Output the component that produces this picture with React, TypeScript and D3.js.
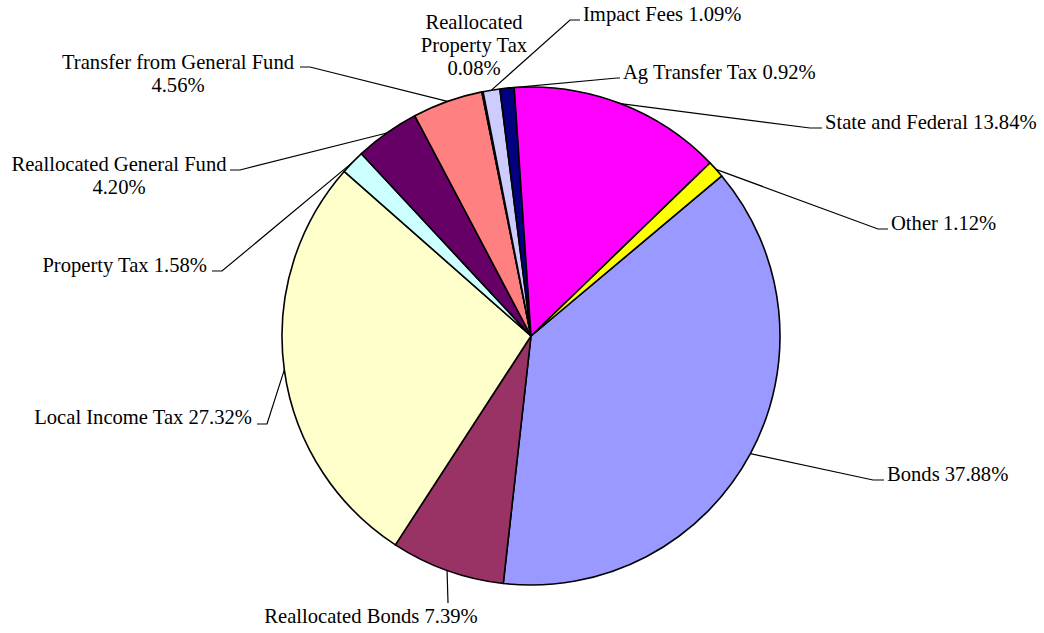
import React from 'react'
import * as d3 from 'd3'

// funding sources, in slice order (clockwise, starting with Bonds)
const categories = [
  'Bonds',
  'Reallocated Bonds',
  'Local Income Tax',
  'Property Tax',
  'Reallocated General Fund',
  'Transfer from General Fund',
  'Reallocated Property Tax',
  'Impact Fees',
  'Ag Transfer Tax',
  'State and Federal',
  'Other'
]
const shares = [37.88, 7.39, 27.32, 1.58, 4.2, 4.56, 0.08, 1.09, 0.92, 13.84, 1.12]
const sliceColors = [
  '#9999FF', '#993366', '#FFFFCC', '#CCFFFF', '#660066', '#FF8080',
  '#0066CC', '#CCCCFF', '#000080', '#FF00FF', '#FFFF00'
]
// how each label is broken into lines
const labelLines = [
  ['Bonds 37.88%'],
  ['Reallocated Bonds 7.39%'],
  ['Local Income Tax 27.32%'],
  ['Property Tax 1.58%'],
  ['Reallocated General Fund', '4.20%'],
  ['Transfer from General Fund', '4.56%'],
  ['Reallocated', 'Property Tax', '0.08%'],
  ['Impact Fees 1.09%'],
  ['Ag Transfer Tax 0.92%'],
  ['State and Federal 13.84%'],
  ['Other 1.12%']
]

// label placement (x, first baseline, anchor, leader elbow, leader tail)
type Place = { x: number, y: number, anchor: string, elbow?: [number, number], tail?: number }
const placement: Place[] = [
  { x: 887, y: 481, anchor: 'start', elbow: [873, 480], tail: 884 },
  { x: 371, y: 623, anchor: 'middle', elbow: [448, 603] },
  { x: 252, y: 424, anchor: 'end', elbow: [267, 424], tail: 257 },
  { x: 207, y: 272, anchor: 'end', elbow: [222, 271], tail: 212 },
  { x: 119, y: 171, anchor: 'middle', elbow: [240, 170], tail: 230 },
  { x: 178, y: 69, anchor: 'middle', elbow: [310, 67], tail: 300 },
  { x: 474, y: 29, anchor: 'middle' },
  { x: 583, y: 21, anchor: 'start', elbow: [570, 20], tail: 580 },
  { x: 623, y: 79, anchor: 'start', elbow: [617, 78], tail: 620 },
  { x: 825, y: 129, anchor: 'start', elbow: [810, 128], tail: 822 },
  { x: 891, y: 230, anchor: 'start', elbow: [878, 229], tail: 888 }
]

const width = 1044
const height = 633
const cx = 531
const cy = 336
const radius = 249
const startDeg = 50

export default function App () {
  const pie = d3
    .pie<number>()
    .sort(null)
    .value(d => d)
    .startAngle((startDeg * Math.PI) / 180)
    .endAngle(((startDeg + 360) * Math.PI) / 180)
  const arcs = pie(shares)
  const arc = d3.arc<d3.PieArcDatum<number>>().innerRadius(0).outerRadius(radius)
  const edge = d3.arc<d3.PieArcDatum<number>>().innerRadius(radius).outerRadius(radius)

  return (
    <svg
      width={width}
      height={height}
      style={{
        position: 'absolute',
        left: 0,
        top: 0,
        background: '#fff',
        fontFamily: "'Liberation Serif', 'Times New Roman', 'DejaVu Serif', serif",
        fontSize: '20.6px'
      }}
    >
      <g transform={`translate(${cx},${cy})`}>
        {arcs.map((a, i) => (
          <path
            key={categories[i]}
            d={arc(a) || ''}
            fill={sliceColors[i]}
            stroke='#000'
            strokeWidth={1.6}
            strokeLinejoin='round'
          />
        ))}
      </g>
      {arcs.map((a, i) => {
        const p = placement[i]
        if (!p.elbow) return null
        const [ex, ey] = edge.centroid(a)
        const pts: [number, number][] = [[cx + ex, cy + ey], p.elbow]
        if (p.tail !== undefined) pts.push([p.tail, p.elbow[1]])
        return (
          <path
            key={'lead' + i}
            d={d3.line()(pts) || ''}
            fill='none'
            stroke='#000'
            strokeWidth={1.2}
          />
        )
      })}
      {labelLines.map((lines, i) => {
        const p = placement[i]
        return (
          <text key={'lab' + i} x={p.x} y={p.y} textAnchor={p.anchor} fill='#000'>
            {lines.map((t, j) => (
              <tspan key={j} x={p.x} dy={j === 0 ? 0 : 22.8}>{t}</tspan>
            ))}
          </text>
        )
      })}
    </svg>
  )
}
